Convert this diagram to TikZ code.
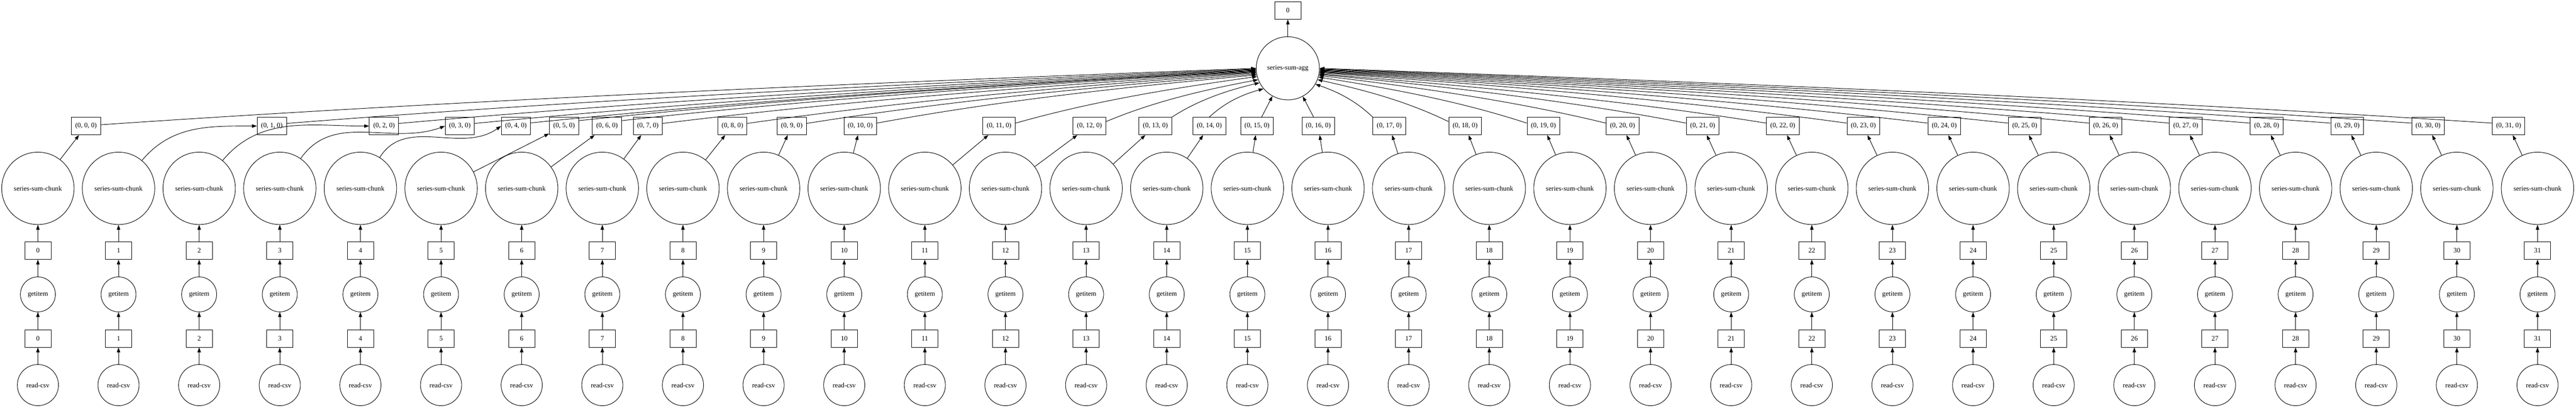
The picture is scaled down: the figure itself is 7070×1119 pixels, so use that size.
\documentclass[tikz,border=0pt]{standalone}
\usepackage{fontspec}
\setmainfont{Liberation Serif}
\usetikzlibrary{arrows.meta,calc}
\tikzset{
  fn/.style={circle, draw, line width=1pt, inner sep=0pt, font=\fontsize{14}{16}\selectfont},
  dat/.style={rectangle, draw, line width=1pt, minimum width=54pt, minimum height=36pt, inner xsep=8pt, inner ysep=0pt, font=\fontsize{14}{16}\selectfont},
  edge/.style={line width=1pt, -{Triangle[length=10pt,width=7pt]}},
}
\begin{document}
\begin{tikzpicture}[x=0.75pt,y=0.75pt]
\useasboundingbox (0,0) rectangle (7070,-1119);
\node[dat] (top) at (3534.5,-29) {0};
\node[fn, minimum size=130pt] (agg) at (3534.5,-187.5) {series-sum-agg};
\draw[edge] (agg) -- (top);
\foreach \i/\bx in {0/236,1/746,2/1054,3/1262,4/1416,5/1548,6/1666,7/1778,8/2010,9/2173,10/2361,11/2742,12/2990,13/3171,14/3319,15/3450,16/3618,17/3813,18/4021,19/4236,20/4453,21/4673,22/4893,23/5114,24/5336,25/5557,26/5779,27/5999,28/6221,29/6442,30/6664,31/6885}{
  \pgfmathsetmacro\cx{104+221.3*\i}
  \node[fn, minimum size=84.75pt] (r\i) at (\cx,-1057) {read-csv};
  \node[dat] (m\i) at (\cx,-929) {\i};
  \node[fn, minimum size=72pt] (g\i) at (\cx,-808) {getitem};
  \node[dat] (n\i) at (\cx,-688) {\i};
  \node[fn, minimum size=149pt] (c\i) at (\cx,-517) {series-sum-chunk};
  \node[dat] (b\i) at (\bx,-346) {(0, \i, 0)};
  \draw[edge] (r\i) -- (m\i);
  \draw[edge] (m\i) -- (g\i);
  \draw[edge] (g\i) -- (n\i);
  \draw[edge] (n\i) -- (c\i);
}
% chunk -> (0,i,0)
\foreach \i in {0,5,6,7,8,9,10,11,12,13,14,15,16,17,18,19,20,21,22,23,24,25,26,27,28,29,30,31}
  \draw[edge] (c\i) -- (b\i);
\foreach \i/\o/\n in {1/50/180,2/50/180,3/55/200,4/58/215}
  \draw[edge] (c\i) to[out=\o,in=\n] (b\i.west);
% (0,i,0) -> agg
\foreach \i/\f/\s in {0/0/5,1/1/10,2/2/10,3/3/10,4/4/12,5/5/20,6/6/20,7/7/10,8/8/10,9/10/10,10/12/10,11/15/10,12/21/15,13/27/north east,14/40/north}{
  \pgfmathtruncatemacro\ang{180+\f}
  \draw[edge] (b\i.\s) .. controls ($(b\i.\s)!0.33!(agg.\ang)+(0,20)$) and ($(b\i.\s)!0.67!(agg.\ang)+(0,12)$) .. (agg.\ang);
}
\draw[edge] (b15) -- (agg.241);
\draw[edge] (b16) -- (agg.298);
\foreach \i/\f/\s in {17/30/north west,18/21/165,19/16/170,20/13/170,21/11/170,22/10/170,23/8/170,24/7/170,25/6/170,26/5/170,27/4/170,28/3/170,29/2/170,30/1/170,31/0/170}{
  \pgfmathtruncatemacro\ang{mod(360-\f,360)}
  \draw[edge] (b\i.\s) .. controls ($(b\i.\s)!0.33!(agg.\ang)+(0,20)$) and ($(b\i.\s)!0.67!(agg.\ang)+(0,12)$) .. (agg.\ang);
}
\end{tikzpicture}
\end{document}
